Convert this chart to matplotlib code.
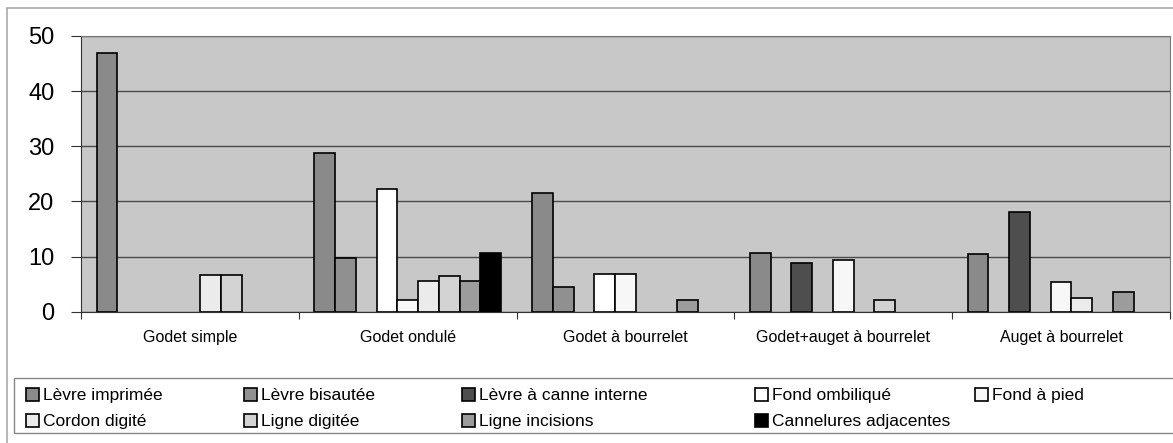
import numpy as np
import matplotlib.pyplot as plt
from matplotlib.patches import Patch, Rectangle

plt.rcParams['font.family'] = ['Liberation Sans', 'DejaVu Sans']

categories = ['Godet simple', 'Godet ondulé', 'Godet à bourrelet',
              'Godet+auget à bourrelet', 'Auget à bourrelet']
series = ['Lèvre imprimée', 'Lèvre bisautée', 'Lèvre à canne interne',
          'Fond ombiliqué', 'Fond à pied', 'Cordon digité', 'Ligne digitée',
          'Ligne incisions', 'Cannelures adjacentes']
levre_imprimee = [47, 28.7, 21.6, 10.7, 10.5]
levre_bisautee = [0, 9.8, 4.4, 0, 0]
levre_canne = [0, 0, 0, 8.8, 18.0]
fond_ombilique = [0, 22.2, 6.9, 0, 0]
fond_pied = [0, 2.1, 6.9, 9.4, 5.3]
cordon_digite = [6.6, 5.6, 0, 0, 2.5]
ligne_digitee = [6.6, 6.5, 0, 2.2, 0]
ligne_incisions = [0, 5.6, 2.2, 0, 3.6]
cannelures = [0, 10.6, 0, 0, 0]
values = [levre_imprimee, levre_bisautee, levre_canne, fond_ombilique, fond_pied,
          cordon_digite, ligne_digitee, ligne_incisions, cannelures]
colors = ['#8a8a8a', '#909090', '#4e4e4e', '#ffffff', '#f7f7f7',
          '#ebebeb', '#d3d3d3', '#9c9c9c', '#000000']

fig = plt.figure(figsize=(11.73, 4.43), dpi=100)
ax = fig.add_axes([81/1173, 1 - 311.7/443, 1089/1173, 275.7/443])
ax.set_facecolor('#c8c8c8')

n = len(series)
w = 1 / (n + 1.5)
x = np.arange(len(categories))
handles = []
for i, (name, vals, c) in enumerate(zip(series, values, colors)):
    pos = x + 0.75 * w + (i + 0.5) * w
    v = np.array(vals, dtype=float)
    mask = v > 0
    ax.bar(pos[mask], v[mask], width=w, color=c, edgecolor='black', linewidth=1.2, zorder=3)
    handles.append(Patch(facecolor=c, edgecolor='black', linewidth=1.2, label=name))

ax.set_xlim(0, len(categories))
ax.set_ylim(0, 50)
ax.set_yticks(range(0, 51, 10))
ax.yaxis.grid(True, color='#4a4a4a', linewidth=1.0, zorder=1)
ax.set_xticks(np.arange(len(categories) + 1))
ax.set_xticklabels([])
ax.set_xticks(x + 0.5, minor=True)
ax.set_xticklabels(categories, minor=True, fontsize=11.5)
ax.tick_params(axis='x', which='minor', length=0, pad=13)
ax.tick_params(axis='x', which='major', length=5, color='#333333')
ax.tick_params(axis='y', length=7, pad=12, labelsize=17, color='#333333')
for s in ['left', 'bottom']:
    ax.spines[s].set_color('#333333')
for s in ['top', 'right']:
    ax.spines[s].set_color('#777777')

# outer chart border
fig.patches.append(Rectangle((7/1173, -0.1), 1.2, (443 - 8)/443 + 0.1,
                             transform=fig.transFigure, fill=False,
                             edgecolor='#aaaaaa', linewidth=1.2))
# legend box
fig.patches.append(Rectangle((14/1173, 1 - 433/443), 1.2, 55/443,
                             transform=fig.transFigure, fill=False,
                             edgecolor='#888888', linewidth=1.0))

col_x = [26, 244, 462, 755, 975]
for j, cx in enumerate(col_x):
    hs = [handles[j]] + ([handles[j + 5]] if j + 5 < n else [])
    fig.legend(handles=hs, loc='upper left', bbox_to_anchor=(cx/1173, 1 - 388/443),
               frameon=False, fontsize=12.5, handlelength=0.75, handleheight=0.75,
               handletextpad=0.25, labelspacing=0.6, borderpad=0, borderaxespad=0)

fig.savefig('out.png', dpi=100, facecolor='white')
